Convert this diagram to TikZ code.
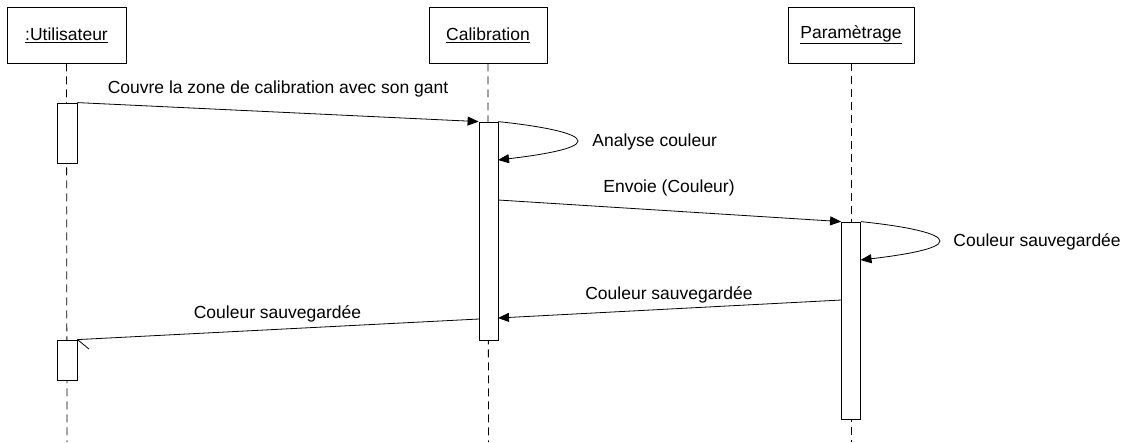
\documentclass[tikz,border=0pt]{standalone}
\usepackage{fontspec}
\setmainfont{Liberation Sans}
\usetikzlibrary{arrows.meta}
\begin{document}
\begin{tikzpicture}[x=1pt,y=-1pt,line width=0.8pt,
  every node/.style={font=\fontsize{17.5pt}{21pt}\selectfont},
  objbox/.style={draw,fill=white,minimum height=56pt,inner sep=0pt},
  actbox/.style={draw,fill=white,minimum width=20pt,inner sep=0pt},
  lifeline/.style={dash pattern=on 8pt off 5pt},
  msg/.style={-{Triangle[length=11pt,width=9pt]}},
  lbl/.style={inner sep=1pt}]
\useasboundingbox (0,0) rectangle (1130,442);
% objects
\node[objbox,minimum width=119pt] (u) at (66.5,35) {\underline{:Utilisateur}};
\node[objbox,minimum width=118pt] (c) at (488,35) {\underline{Calibration}};
\node[objbox,minimum width=126pt] (p) at (851,35) {\underline{Paramètrage}};
% lifelines
\coordinate (uend) at (67,442);
\coordinate (cend) at (488.5,442);
\coordinate (pend) at (851,442);
\draw[lifeline] (u.south) -- (uend);
\draw[lifeline] (c.south) -- (cend);
\draw[lifeline] (p.south) -- (pend);
% activations
\node[actbox,minimum height=60pt] (ua1) at (67,133) {};
\node[actbox,minimum height=40pt] (ua2) at (67,360) {};
\node[actbox,minimum height=218pt,minimum width=19pt] (ca) at (488.5,231) {};
\node[actbox,minimum height=197pt,minimum width=19pt] (pa) at (851,320.5) {};
% message points
\coordinate (a1s) at (498,160);
\coordinate (a1t) at (578,141);
\coordinate (e1) at (498,200);
\coordinate (p1s) at (860.5,260);
\coordinate (p1t) at (940,241);
\coordinate (r1s) at (841.5,300);
\coordinate (r1e) at (498,318);
\coordinate (r2s) at (479,319);
\coordinate (barb) at (89,349);
% messages
\draw[msg] (ua1.north east) -- (ca.north west);
\node[lbl] (l1) at (278,89) {Couvre la zone de calibration avec son gant};
\draw[msg] (ca.north east) .. controls (540,126) and (578,133) .. (a1t)
  .. controls (578,149) and (540,155) .. (a1s);
\node[lbl,anchor=west] (l2) at (591,142) {Analyse couleur};
\draw[msg] (e1) -- (pa.north west);
\node[lbl] (l3) at (669,188) {Envoie (Couleur)};
\draw[msg] (pa.north east) .. controls (903,226) and (940,233) .. (p1t)
  .. controls (940,249) and (903,255) .. (p1s);
\node[lbl,anchor=west] (l4) at (952,242) {Couleur sauvegardée};
\draw[msg] (r1s) -- (r1e);
\node[lbl,fill=white] (l5) at (669,295) {Couleur sauvegardée};
\draw (r2s) -- (ua2.north east);
\draw (ua2.north east) -- (barb);
\node[lbl] (l6) at (277.5,314) {Couleur sauvegardée};
\end{tikzpicture}
\end{document}
